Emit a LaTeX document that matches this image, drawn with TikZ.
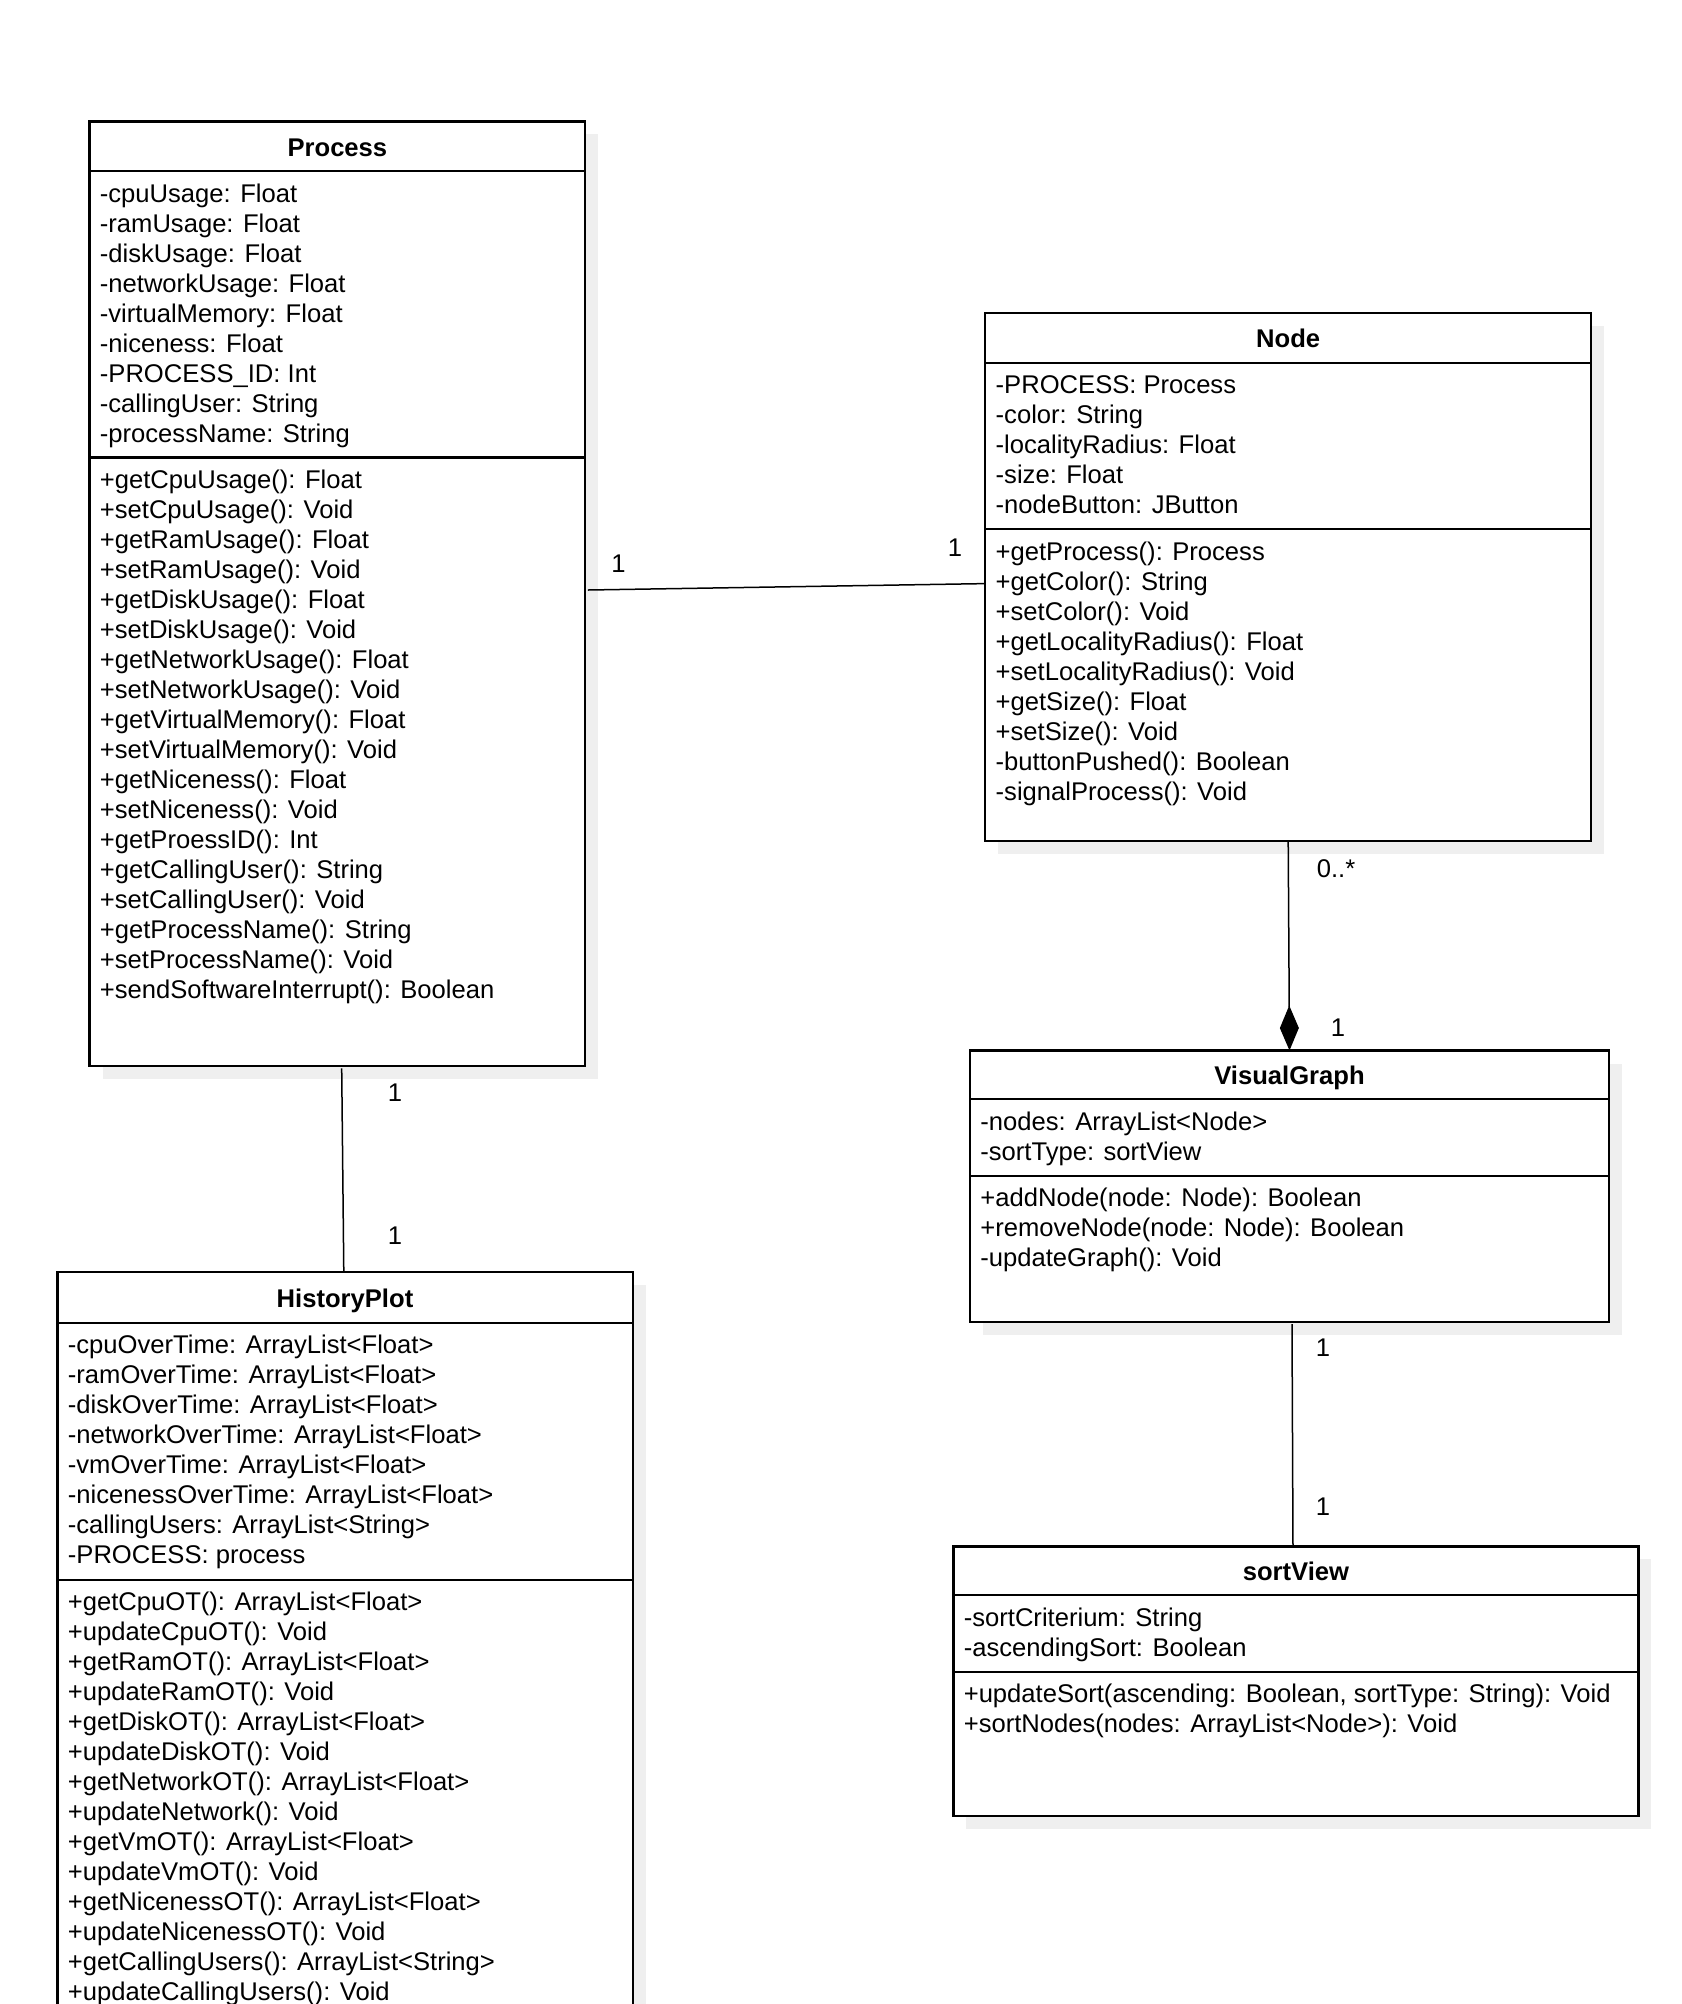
\documentclass[tikz,border=0pt]{standalone}
\usepackage{fontspec}
\setmainfont{Liberation Sans}
\usetikzlibrary{fit,calc,arrows.meta}
\definecolor{shadowc}{HTML}{EFEFEF}
\tikzset{
  classbox/.style={draw=black, line width=1.1pt, fill=white, inner sep=0pt, outer sep=0pt},
  sepline/.style={line width=1.1pt},
  ctitle/.style={font=\bfseries\fontsize{12.8}{15}\selectfont, anchor=base, inner sep=0pt},
  members/.style={font=\fontsize{12.8}{15}\selectfont, align=left, anchor=north west, inner sep=0pt},
  mult/.style={font=\fontsize{12.8}{15}\selectfont, inner sep=0pt},
  assoc/.style={line width=0.75pt},
  shadowbox/.style={fill=shadowc},
}
\begin{document}
\begin{tikzpicture}[x=0.5pt,y=-0.5pt]
\useasboundingbox (0,0) rectangle (1682,2004);
\clip (0,0) rectangle (1682,2004);

% ---------- Process ----------
\fill[shadowbox] (102.5,134.4) rectangle (598.3,1078.9);
\node[classbox, fit={(89.5,121.4)(585.3,1065.9)}] (process) {};
\draw[sepline] (89.5,171.3) -- (585.3,171.3);
\draw[sepline] (89.5,457.5) -- (585.3,457.5);
\node[ctitle] (processT) at (337.4,156) {Process};
\node[members] (processA) at (99.5,183.5) {-cpuUsage: Float\\-ramUsage: Float\\-diskUsage: Float\\-networkUsage: Float\\-virtualMemory: Float\\-niceness: Float\\-PROCESS\_ID: Int\\-callingUser: String\\-processName: String};
\node[members] (processM) at (99.5,469.7) {+getCpuUsage(): Float\\+setCpuUsage(): Void\\+getRamUsage(): Float\\+setRamUsage(): Void\\+getDiskUsage(): Float\\+setDiskUsage(): Void\\+getNetworkUsage(): Float\\+setNetworkUsage(): Void\\+getVirtualMemory(): Float\\+setVirtualMemory(): Void\\+getNiceness(): Float\\+setNiceness(): Void\\+getProessID(): Int\\+getCallingUser(): String\\+setCallingUser(): Void\\+getProcessName(): String\\+setProcessName(): Void\\+sendSoftwareInterrupt(): Boolean};

% ---------- Node ----------
\fill[shadowbox] (998.3,326.1) rectangle (1604.1,853.9);
\node[classbox, fit={(985.3,313.1)(1591.1,840.9)}] (node) {};
\draw[sepline] (985.3,363) -- (1591.1,363);
\draw[sepline] (985.3,529.1) -- (1591.1,529.1);
\node[ctitle] (nodeT) at (1288.2,347.6) {Node};
\node[members] (nodeA) at (995.3,375.2) {-PROCESS: Process\\-color: String\\-localityRadius: Float\\-size: Float\\-nodeButton: JButton};
\node[members] (nodeM) at (995.3,541.3) {+getProcess(): Process\\+getColor(): String\\+setColor(): Void\\+getLocalityRadius(): Float\\+setLocalityRadius(): Void\\+getSize(): Float\\+setSize(): Void\\-buttonPushed(): Boolean\\-signalProcess(): Void};

% ---------- VisualGraph ----------
\fill[shadowbox] (983,1063.5) rectangle (1622,1335);
\node[classbox, fit={(970,1050.5)(1609,1322)}] (vg) {};
\draw[sepline] (970,1099) -- (1609,1099);
\draw[sepline] (970,1175.8) -- (1609,1175.8);
\node[ctitle] (vgT) at (1289.5,1084.4) {VisualGraph};
\node[members] (vgA) at (980,1111.2) {-nodes: ArrayList<Node>\\-sortType: sortView};
\node[members] (vgM) at (980,1188) {+addNode(node: Node): Boolean\\+removeNode(node: Node): Boolean\\-updateGraph(): Void};

% ---------- sortView ----------
\fill[shadowbox] (966.4,1559.4) rectangle (1651.4,1829);
\node[classbox, fit={(953.4,1546.4)(1638.4,1816)}] (sv) {};
\draw[sepline] (953.4,1595) -- (1638.4,1595);
\draw[sepline] (953.4,1671.6) -- (1638.4,1671.6);
\node[ctitle] (svT) at (1295.9,1580.3) {sortView};
\node[members] (svA) at (963.4,1607.2) {-sortCriterium: String\\-ascendingSort: Boolean};
\node[members] (svM) at (963.4,1683.8) {+updateSort(ascending: Boolean, sortType: String): Void\\+sortNodes(nodes: ArrayList<Node>): Void};

% ---------- HistoryPlot ----------
\fill[shadowbox] (70.5,1285) rectangle (645.6,2113);
\node[classbox, fit={(57.5,1272)(632.6,2100)}] (hp) {};
\draw[sepline] (57.5,1322.7) -- (632.6,1322.7);
\draw[sepline] (57.5,1579.6) -- (632.6,1579.6);
\node[ctitle] (hpT) at (345,1307) {HistoryPlot};
\node[members] (hpA) at (67.5,1334.9) {-cpuOverTime: ArrayList<Float>\\-ramOverTime: ArrayList<Float>\\-diskOverTime: ArrayList<Float>\\-networkOverTime: ArrayList<Float>\\-vmOverTime: ArrayList<Float>\\-nicenessOverTime: ArrayList<Float>\\-callingUsers: ArrayList<String>\\-PROCESS: process};
\node[members] (hpM) at (67.5,1591.8) {+getCpuOT(): ArrayList<Float>\\+updateCpuOT(): Void\\+getRamOT(): ArrayList<Float>\\+updateRamOT(): Void\\+getDiskOT(): ArrayList<Float>\\+updateDiskOT(): Void\\+getNetworkOT(): ArrayList<Float>\\+updateNetwork(): Void\\+getVmOT(): ArrayList<Float>\\+updateVmOT(): Void\\+getNicenessOT(): ArrayList<Float>\\+updateNicenessOT(): Void\\+getCallingUsers(): ArrayList<String>\\+updateCallingUsers(): Void};

% ---------- Connectors ----------
\draw[assoc] ($(process.north east)+(2.6,468.6)$) -- ($(node.north west)+(0,270.5)$);
\node[mult] (m1) at (618.5,564) {1};
\node[mult] (m2) at (955,548) {1};

\draw[assoc, -{Diamond[length=22.5pt,width=9.5pt,fill=black]}] (node.south) -- (vg.north);
\node[mult] (m3) at (1336,868.5) {0..*};
\node[mult] (m4) at (1338,1028) {1};

\draw[assoc] ($(process.south west)+(252.2,2.5)$) -- ($(hp.north west)+(286.3,0)$);
\node[mult] (m5) at (395,1092.5) {1};
\node[mult] (m6) at (395,1236) {1};

\draw[assoc] ($(vg.south west)+(322,2)$) -- ($(sv.north west)+(339.6,0)$);
\node[mult] (m7) at (1323,1348) {1};
\node[mult] (m8) at (1323,1507) {1};
\end{tikzpicture}
\end{document}
